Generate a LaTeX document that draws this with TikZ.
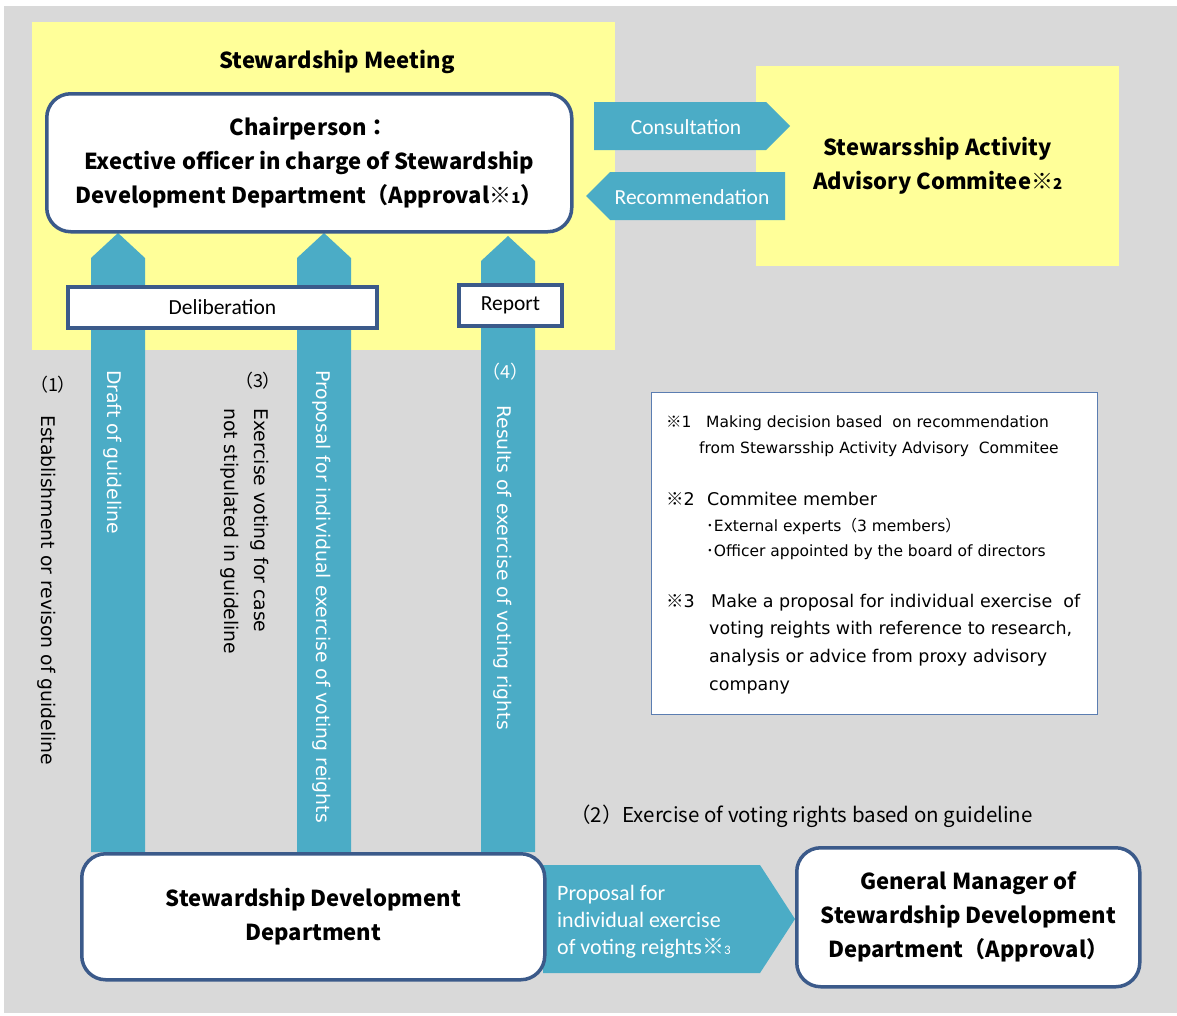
\documentclass[tikz,border=0pt]{standalone}
\usepackage{fontspec}
\setmainfont{Noto Sans CJK JP}
\newfontfamily\jp{Noto Sans CJK JP}
\newfontfamily\calfont{Carlito}
\newfontfamily\djfont{DejaVu Sans}
\usetikzlibrary{calc}
\definecolor{bggray}{HTML}{D9D9D9}
\definecolor{ylw}{HTML}{FFFF99}
\definecolor{tealc}{HTML}{4BACC6}
\definecolor{bblue}{HTML}{3B5A8A}
\definecolor{nblue}{HTML}{5B7DB1}
\newcommand{\fsz}[2]{\fontsize{#1}{#2}\selectfont}
\begin{document}
\begin{tikzpicture}[x=1pt,y=-1pt,
  rbox/.style={draw=bblue, line width=3.5pt, fill=white, rounded corners=24pt, inner sep=0pt, anchor=north west, align=center},
  sbox/.style={draw=bblue, line width=4pt, fill=white, inner sep=0pt, anchor=north west},
  hdr/.style={font=\bfseries\fsz{22}{34}, align=center, inner sep=0pt},
  rot/.style={rotate=-90, anchor=west, inner sep=0pt, font=\djfont\fsz{18.8}{30}, align=left},
  wlbl/.style={text=white, inner sep=0pt},
  blk/.style={fill=tealc},
  note/.style={anchor=base west, inner sep=0pt, font=\djfont\fsz{15.5}{18}},
  noteb/.style={anchor=base west, inner sep=0pt, font=\djfont\fsz{17.5}{20}},
]
\useasboundingbox (0,0) rectangle (1177,1015);
\fill[white] (0,0) rectangle (1177,1015);
\fill[bggray] (4,6) rectangle (1177,1013);

% yellow areas
\node[fill=ylw, minimum width=583, minimum height=328, anchor=north west, inner sep=0pt] (meet) at (32,22) {};
\node[fill=ylw, minimum width=363, minimum height=200, anchor=north west, inner sep=0pt, hdr] (adv) at (756,66)
  {Stewarsship Activity\\Advisory Commitee{\jp※}{\fsz{15}{15}2}};
\node[hdr] (mtitle) at (337,62) {Stewardship Meeting};

% foot points of the vertical arrows (on the top of the bottom box)
\coordinate (a1) at (91,852);
\coordinate (a2) at (297,852);
\coordinate (a3) at (481,852);

% vertical arrows
\fill[blk] (a1) -- ++(0,-594) -- ++(27,-25) -- ++(27,25) -- ++(0,594) -- cycle;
\fill[blk] (a2) -- ++(0,-594) -- ++(27,-25) -- ++(27,25) -- ++(0,594) -- cycle;
\fill[blk] (a3) -- ++(0,-591) -- ++(27,-25) -- ++(27,25) -- ++(0,591) -- cycle;

% chairperson
\node[rbox, hdr, minimum width=525, minimum height=138] (chair) at (45,92)
  {Chairperson{\jp：}\\Exective officer in charge of Stewardship\\Development Department{\jp（}Approval{\jp※}{\fsz{15}{15}1}{\jp）}};

% consultation / recommendation arrows
\fill[blk] (594,102) -- (766,102) -- (790,126) -- (766,150) -- (594,150) -- cycle;
\node[wlbl, font=\calfont\fsz{21.5}{24}] (cons) at (686,127) {Consultation};
\fill[blk] (785,172) -- (610,172) -- (586,196) -- (610,220) -- (785,220) -- cycle;
\node[wlbl, font=\calfont\fsz{21.5}{24}] (reco) at (692,197) {Recommendation};

% deliberation / report
\node[sbox, minimum width=309, minimum height=41, font=\calfont\fsz{21.5}{24}] (delib) at (66,285) {Deliberation};
\node[sbox, minimum width=103, minimum height=41, font=\calfont\fsz{21.5}{24}] (report) at (457,283) {Report};

% labels along arrows
\node[inner sep=0pt, font=\fsz{18}{20}] (l1) at (53,385) {{\jp（}1{\jp）}};
\node[rot] (est) at (47,415) {Establishment or revison of guideline};
\node[rot, text=white] (draft) at (113,370) {Draft of guideline};
\node[inner sep=0pt, font=\fsz{18}{20}] (l3) at (258,381) {{\jp（}3{\jp）}};
\node[rot] (exv) at (245,408) {Exercise voting for case\\not stipulated in guideline};
\node[rot, text=white] (prop) at (322,370) {Proposal for individual exercise of voting reights};
\node[inner sep=0pt, text=white, font=\fsz{18}{20}] (l4) at (505,372) {{\jp（}4{\jp）}};
\node[rot, text=white] (res) at (503,405) {Results of exercise of voting rights};

% notes
\node[draw=nblue, line width=1pt, fill=white, minimum width=446, minimum height=322, anchor=north west, inner sep=0pt] (notes) at (651,392) {};
\node[note] (n1a) at (666,427) {{\jp※}1};
\node[note] (n1b) at (706,427) {Making decision based\ \ on recommendation};
\node[note] (n1c) at (699,453) {from Stewarsship Activity Advisory\ \ Commitee};
\node[noteb] (n2a) at (666,505) {{\jp※}2};
\node[noteb] (n2b) at (707,505) {Commitee member};
\node[note] (n2c) at (706,531) {{\jp･}External experts{\jp（}3 members{\jp）}};
\node[note] (n2d) at (706,556) {{\jp･}Officer appointed by the board of directors};
\node[noteb] (n3a) at (666,607) {{\jp※}3};
\node[noteb] (n3b) at (711,607) {Make a proposal for individual exercise\ \ of};
\node[noteb] (n3c) at (709,634) {voting reights with reference to research,};
\node[noteb] (n3d) at (709,662) {analysis or advice from proxy advisory};
\node[noteb] (n3e) at (709,690) {company};

% (2)
\node[inner sep=0pt, anchor=west, font=\fsz{20.5}{22}] (l2) at (570,816) {{\jp（}2{\jp）}Exercise of voting rights based on guideline};

% bottom arrow
\fill[blk] (543,865) -- (760,865) -- (795,919) -- (760,973) -- (543,973) -- cycle;

\node[rbox, hdr, minimum width=463, minimum height=126] (sdd) at (80,852)
  {Stewardship Development\\Department};
\node[rbox, hdr, minimum width=343, minimum height=139] (gm) at (795,846)
  {General Manager of\\Stewardship Development\\Department{\jp（}Approval{\jp）}};

\node[wlbl, anchor=west, align=left, font=\calfont\fsz{22}{27}] (bprop) at (557,922)
  {Proposal for\\individual exercise\\of voting reights{\jp※}{\fsz{13}{13}3}};
\end{tikzpicture}
\end{document}
